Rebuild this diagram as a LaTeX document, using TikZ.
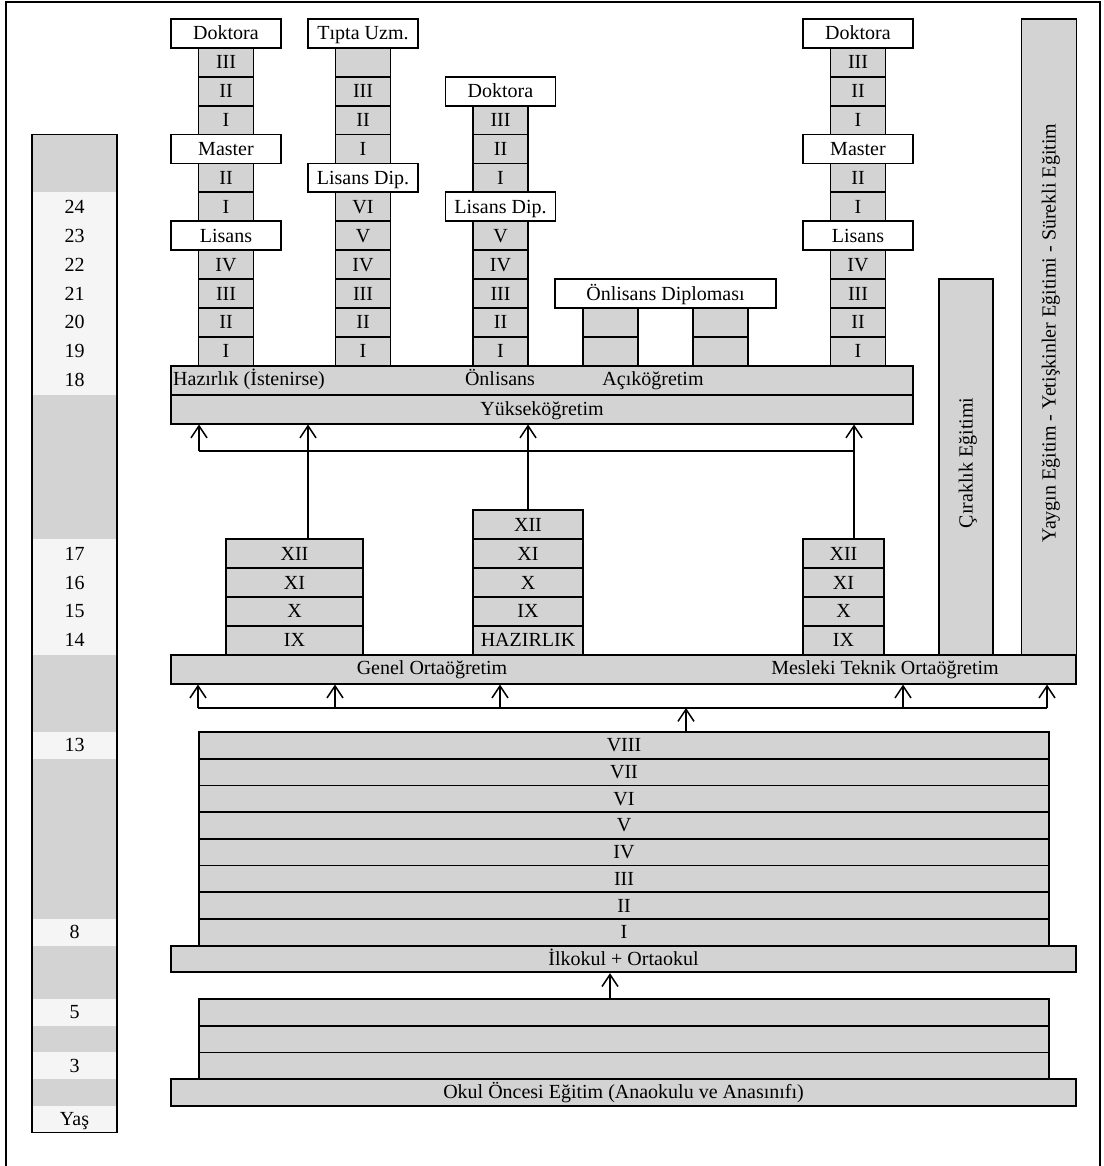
\documentclass[tikz,border=0pt]{standalone}
\usepackage{fontspec}
\setmainfont{Liberation Serif}
\usepackage{xcolor}
\usepackage{tikz}
\usetikzlibrary{arrows.meta}
\definecolor{EduGray}{HTML}{D3D3D3}
\definecolor{AgeLight}{HTML}{F5F5F5}

\begin{document}
\begin{tikzpicture}[x=1pt,y=-1pt,font=\fontsize{20}{23}\selectfont,
  cell/.style={draw,fill=EduGray,line width=1.8pt,minimum width=55pt,minimum height=28.9pt,inner sep=0pt,text height=14pt,text depth=1pt},
  titlebox/.style={cell,fill=white,minimum width=110pt},
  lowcell/.style={cell,minimum height=26.7pt},
  txt/.style={inner sep=0pt,text height=14pt,text depth=1pt},
  arr/.style={line width=1.5pt,-{Straight Barb[length=12pt,width=16pt]}}]
\useasboundingbox (0,0) rectangle (1103,1166);
\draw[line width=2pt] (6,1175) -- (6,2) -- (1100,2) -- (1100,1175);
\fill[EduGray] (32,134.6) rectangle (117,1132.5);
\foreach \a/\b in {192.4/394.7,539.2/654.8,732/758.7,918.9/945.6,999/1025.7,1052.4/1079.1,1105.8/1132.5}
  \fill[AgeLight] (32,\a) rectangle (117,\b);
\draw[line width=1.8pt] (32,134.6) rectangle (117,1132.5);
\foreach \a/\y in {24/206.85,23/235.75,22/264.65,21/293.55,20/322.45,19/351.35,18/380.25,17/553.65,16/582.55,15/611.45,14/640.35,13/745.35,8/932.25,5/1012.35,3/1065.75}
  \node[txt] (age\a) at (74.5,\y) {\a};
\node[txt] (yas) at (74.5,1119.15) {Yaş};
\foreach \s/\t [count=\k from 0] in {titlebox/Doktora,cell/III,cell/II,cell/I,titlebox/Master,cell/II,cell/I,titlebox/Lisans,cell/IV,cell/III,cell/II,cell/I}
  \node[\s] (ta\k) at (226,{33.45+28.9*\k}) {\t};
\foreach \s/\t [count=\k from 0] in {titlebox/{Tıpta Uzm.},cell/{},cell/III,cell/II,cell/I,titlebox/{Lisans Dip.},cell/VI,cell/V,cell/IV,cell/III,cell/II,cell/I}
  \node[\s] (tb\k) at (363,{33.45+28.9*\k}) {\t};
\foreach \s/\t [count=\k from 2] in {titlebox/Doktora,cell/III,cell/II,cell/I,titlebox/{Lisans Dip.},cell/V,cell/IV,cell/III,cell/II,cell/I}
  \node[\s] (tc\k) at (500.5,{33.45+28.9*\k}) {\t};
\foreach \s/\t [count=\k from 0] in {titlebox/Doktora,cell/III,cell/II,cell/I,titlebox/Master,cell/II,cell/I,titlebox/Lisans,cell/IV,cell/III,cell/II,cell/I}
  \node[\s] (td\k) at (858,{33.45+28.9*\k}) {\t};
\node[titlebox,minimum width=221pt] (old) at (665.5,293.55) {Önlisans Diploması};
\node[cell] (ola) at (610.5,322.45) {};
\node[cell] (olb) at (610.5,351.35) {};
\node[cell] (olc) at (720.5,322.45) {};
\node[cell] (old2) at (720.5,351.35) {};
\node[cell,minimum width=742pt] (haz) at (542,380.25) {};
\node[txt,anchor=west] (hazt) at (173,379) {Hazırlık (İstenirse)};
\node[txt] (onl) at (500,379) {Önlisans};
\node[txt] (aco) at (653,379) {Açıköğretim};
\node[cell,minimum width=742pt] (yuk) at (542,409.15) {Yükseköğretim};
\node[cell,minimum width=54pt,minimum height=375.7pt] (cir) at (966,466.95) {};
\node[txt,rotate=90] (cirt) at (966,463) {Çıraklık Eğitimi};
\node[cell,minimum width=55pt,minimum height=635.8pt] (yay) at (1049,336.9) {};
\node[txt,rotate=90] (yayt) at (1049,333) {Yaygın Eğitim - Yetişkinler Eğitimi - Sürekli Eğitim};
\foreach \t [count=\k from 0] in {XII,XI,X,IX}
  \node[cell,minimum width=137pt] (ls\k) at (294.5,{553.65+28.9*\k}) {\t};
\foreach \t [count=\k from 0] in {XII,XI,X,IX,HAZIRLIK}
  \node[cell,minimum width=110pt] (cs\k) at (528,{524.75+28.9*\k}) {\t};
\foreach \t [count=\k from 0] in {XII,XI,X,IX}
  \node[cell,minimum width=81pt] (rs\k) at (843.5,{553.65+28.9*\k}) {\t};
\node[cell,minimum width=905pt] (gen) at (623.5,669.25) {};
\node[txt] (gent) at (432,668) {Genel Ortaöğretim};
\node[txt] (mest) at (885,668) {Mesleki Teknik Ortaöğretim};
\foreach \t [count=\k from 0] in {VIII,VII,VI,V,IV,III,II,I}
  \node[lowcell,minimum width=850pt] (ilk\k) at (624,{745.35+26.7*\k}) {\t};
\node[lowcell,minimum width=905pt] (iko) at (623.5,958.95) {İlkokul + Ortaokul};
\foreach \k/\y in {0/1012.35,1/1039.05,2/1065.75}
  \node[lowcell,minimum width=850pt] (pre\k) at (624,\y) {};
\node[lowcell,minimum width=905pt] (oko) at (623.5,1092.45) {Okul Öncesi Eğitim (Anaokulu ve Anasınıfı)};
\coordinate (ua) at (199,451);
\coordinate (ub) at (308,451);
\coordinate (ud) at (854,451);
\draw[line width=1.5pt] (ua) -- (ud);
\draw[arr] (ua) -- (ua |- yuk.south);
\draw[arr] (ls0.north -| ub) -- (ub |- yuk.south);
\draw[arr] (cs0.north) -- (cs0.north |- yuk.south);
\draw[arr] (rs0.north -| ud) -- (ud |- yuk.south);
\coordinate (la) at (198,708);
\coordinate (lb) at (335,708);
\coordinate (lc) at (500,708);
\coordinate (ld) at (903,708);
\coordinate (le) at (1047,708);
\coordinate (lm) at (686,708);
\draw[line width=1.5pt] (la) -- (le);
\foreach \c in {la,lb,lc,ld,le}
  \draw[arr] (\c) -- (\c |- gen.south);
\draw[arr] (ilk0.north -| lm) -- (lm);
\coordinate (bm) at (610,0);
\draw[arr] (pre0.north -| bm) -- (bm |- iko.south);
\end{tikzpicture}
\end{document}
